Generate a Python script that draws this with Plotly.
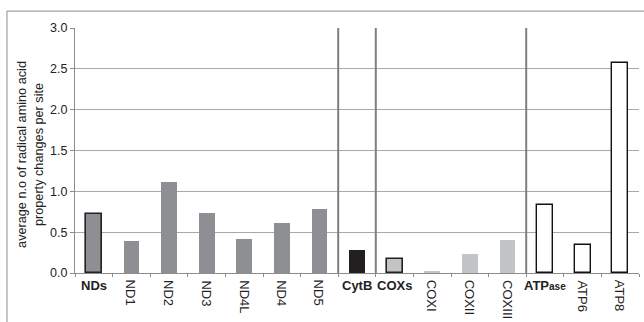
import plotly.graph_objects as go

# Mitochondrial genes and their mean radical amino-acid property changes per site
genes = ["NDs", "ND1", "ND2", "ND3", "ND4L", "ND4", "ND5",
         "CytB",
         "COXs", "COXI", "COXII", "COXIII",
         "ATPase", "ATP6", "ATP8"]
values = [0.72, 0.39, 1.11, 0.73, 0.42, 0.61, 0.78,
          0.28,
          0.17, 0.03, 0.23, 0.40,
          0.83, 0.34, 2.57]
# group summaries get horizontal bold labels, individual genes rotated labels
group_rows = {"NDs", "CytB", "COXs", "ATPase"}
group_label = {"NDs": "<b>NDs</b>", "CytB": "<b>CytB</b>", "COXs": "<b>COXs</b>",
               "ATPase": "<b>ATP<span style='font-size:10px'>ase</span></b>"}

y_ticks = [0.0, 0.5, 1.0, 1.5, 2.0, 2.5, 3.0]


def style(g):
    if g.startswith("ND"):
        return "#8e8f93", ("#222222" if g == "NDs" else "#8e8f93"), (1.6 if g == "NDs" else 0)
    if g == "CytB":
        return "#231f20", "#231f20", 0
    if g.startswith("COX"):
        return "#c3c4c6", ("#222222" if g == "COXs" else "#c3c4c6"), (1.6 if g == "COXs" else 0)
    return "#ffffff", "#111111", 1.4


fills, lines, widths = zip(*[style(g) for g in genes])

fig = go.Figure(go.Bar(
    x=genes, y=values, width=0.42,
    marker=dict(color=list(fills), line=dict(color=list(lines), width=list(widths))),
))

TXT = "#222222"
FONT = "Liberation Sans, Arial, sans-serif"

annotations = []
for g in genes:
    if g in group_rows:
        annotations.append(dict(x=g, y=0, xref="x", yref="y", text=group_label[g],
                                showarrow=False, yanchor="top", yshift=-3,
                                font=dict(size=13, color=TXT, family=FONT)))
    else:
        annotations.append(dict(x=g, y=0, xref="x", yref="y", text=g, textangle=90,
                                showarrow=False, yanchor="top", yshift=-5,
                                font=dict(size=13, color=TXT, family=FONT)))

annotations.append(dict(
    x=-0.0789, y=0.484, xref="paper", yref="paper", textangle=-90, showarrow=False,
    xanchor="center", yanchor="middle",
    text="average n.o of radical amino acid<br>property changes per site",
    font=dict(size=12.7, color=TXT, family=FONT)))

shapes = []
# separators between gene groups
for xb in [6.5, 7.5, 11.5]:
    shapes.append(dict(type="line", xref="x", yref="paper", x0=xb, x1=xb, y0=0, y1=1,
                       line=dict(color="#7f7f7f", width=2), layer="above"))
# outer frame (top edge and left edge)
shapes.append(dict(type="line", xref="paper", yref="paper", x0=-0.1206, x1=1.02,
                   y0=1.069, y1=1.069, line=dict(color="#8c8c8c", width=1)))
shapes.append(dict(type="line", xref="paper", yref="paper", x0=-0.1206, x1=-0.1206,
                   y0=-0.25, y1=1.069, line=dict(color="#8c8c8c", width=1)))

fig.update_layout(
    width=644, height=322,
    margin=dict(l=75, r=5, t=28, b=49),
    paper_bgcolor="white", plot_bgcolor="white",
    showlegend=False, bargap=0,
    font=dict(family=FONT, color=TXT, size=12),
    xaxis=dict(type="category", showticklabels=False, ticks="outside",
               tickson="boundaries", ticklen=3, tickcolor="#8c8c8c",
               showline=True, linecolor="#8c8c8c", linewidth=1,
               showgrid=False, range=[-0.5, 14.5]),
    yaxis=dict(range=[0, 3.0], tickvals=y_ticks, tickformat=".1f",
               ticks="outside", ticklen=4, tickcolor="#8c8c8c",
               showline=True, linecolor="#8c8c8c", linewidth=1,
               showgrid=True, gridcolor="#a9a9a9", gridwidth=1,
               zeroline=False, tickfont=dict(size=12.5, color=TXT)),
    annotations=annotations,
    shapes=shapes,
)

fig.write_html("out.html")
